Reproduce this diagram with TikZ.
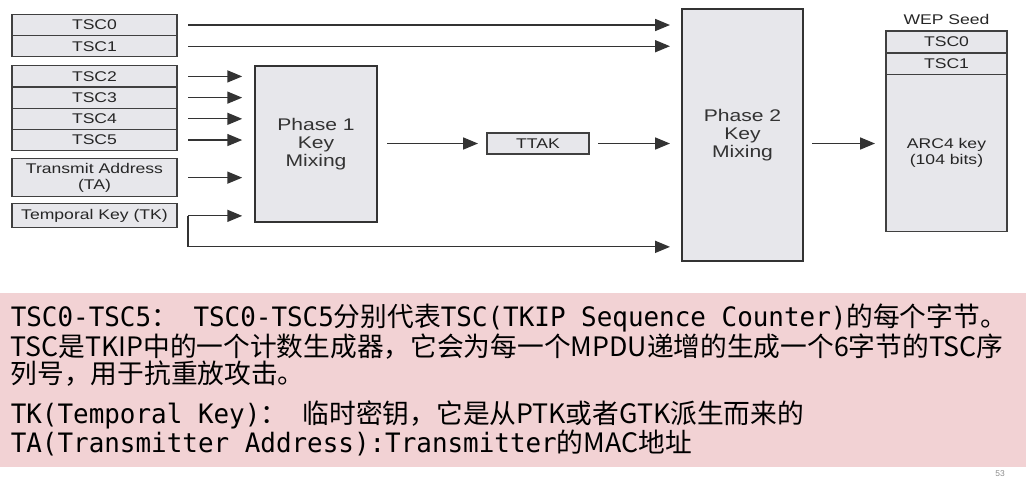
\documentclass[tikz,border=0pt]{standalone}
\usepackage{fontspec}
\setmainfont{Liberation Sans}
\newfontfamily\diagfont[FakeStretch=1.25]{Liberation Sans}
\newfontfamily\cjkfont{Noto Sans CJK SC}
\newfontfamily\monofont[FakeStretch=0.97]{DejaVu Sans Mono}
\usetikzlibrary{arrows.meta, positioning, calc}
\definecolor{boxgray}{RGB}{231,231,235}
\definecolor{notepink}{RGB}{242,210,212}
\newcommand{\mn}[1]{{\monofont\spaceskip=\fontdimen2\font\relax\xspaceskip=\spaceskip #1}}

\begin{document}
\begin{tikzpicture}[
  x=0.025cm, y=-0.025cm,
  field/.style={draw=black!75, line width=0.9pt, fill=boxgray, minimum width=4.125cm,
                minimum height=0.53cm, inner sep=0pt, outer sep=0pt, align=center,
                font=\diagfont\fontsize{10}{11}\selectfont, text=black!85},
  mixer/.style={draw=black!80, line width=1.8pt, fill=boxgray, inner sep=0pt, outer sep=0pt,
                align=center, font=\diagfont\fontsize{12}{12.8}\selectfont, text=black!80},
  arr/.style={-{Triangle[length=0.37cm, width=0.3cm]}, line width=0.9pt, draw=black!80},
  node distance=0pt
]
\useasboundingbox (0,0) rectangle (1034,483);

% input fields
\node[field] (tsc0) at (94.5,25) {TSC0};
\node[field, below=of tsc0] (tsc1) {TSC1};
\node[field, below=0.225cm of tsc1] (tsc2) {TSC2};
\node[field, below=of tsc2] (tsc3) {TSC3};
\node[field, below=of tsc3] (tsc4) {TSC4};
\node[field, below=of tsc4] (tsc5) {TSC5};
\node[field, below=0.2cm of tsc5, minimum height=0.95cm] (ta) {Transmit Address\\(TA)};
\node[field, below=0.18cm of ta, minimum height=0.6cm] (tk) {Temporal Key (TK)};

% mixing stages
\node[mixer, minimum width=3.05cm, minimum height=3.9cm] (p1) at (316,144) {Phase 1\\Key\\Mixing};
\node[field, minimum width=2.55cm] (ttak) at (538,143.5) {TTAK};
\node[mixer, minimum width=3.025cm, minimum height=6.3cm] (p2) at (742.5,135) {Phase 2\\Key\\Mixing};

% WEP seed
\node[field, minimum width=3.025cm, minimum height=0.55cm] (wtsc0) at (946.5,42) {TSC0};
\node[field, below=of wtsc0, minimum width=3.025cm] (wtsc1) {TSC1};
\node[field, below=of wtsc1, minimum width=3.025cm, minimum height=3.925cm] (arc4) {ARC4 key\\(104 bits)};
\node[above=0.12cm of wtsc0, inner sep=1pt, font=\diagfont\fontsize{10}{11}\selectfont, text=black!85] (seed) {WEP Seed};

\draw[arr, shorten <=0.275cm, shorten >=0.3cm] (tsc0.east) -- (tsc0.east -| p2.west);
\draw[arr, shorten <=0.275cm, shorten >=0.3cm] (tsc1.east) -- (tsc1.east -| p2.west);
\foreach \n in {tsc2,tsc3,tsc4,tsc5,ta,tk}
  \draw[arr, shorten <=0.275cm, shorten >=0.32cm] (\n.east) -- (\n.east -| p1.west);
\coordinate (tkbend) at ($(tk.east)+(11,31)$);
\draw[arr, shorten >=0.3cm] (tkbend |- tk.east) -- (tkbend) -- (tkbend -| p2.west);
\draw[arr, shorten <=0.25cm, shorten >=0.225cm] (p1.east |- ttak) -- (ttak);
\draw[arr, shorten <=0.225cm, shorten >=0.3cm] (ttak) -- (ttak -| p2.west);
\draw[arr, shorten <=0.225cm, shorten >=0.275cm] (p2.east |- ttak) -- (ttak -| arc4.west);

% notes
\node[anchor=north west, fill=notepink, minimum width=25.625cm, minimum height=4.35cm,
      text width=25.1cm, inner xsep=0.25cm, inner ysep=0pt, align=left,
      font=\cjkfont] (notes) at (0,293) {%
  \fontsize{19}{19.6}\selectfont\baselineskip=0.6875cm
  \mn{TSC0-TSC5}：\mn{ TSC0-TSC5}分别代表\mn{TSC(TKIP Sequence Counter)}的每个字节。\\
  TSC是TKIP中的一个计数生成器，它会为每一个MPDU递增的生成一个6字节的TSC序\\
  列号，用于抗重放攻击。\\[0.3cm]
  \mn{TK(Temporal Key)}：\mn{ }临时密钥，它是从PTK或者GTK派生而来的\\
  \mn{TA(Transmitter Address):Transmitter}的MAC地址\par};
\node[font=\fontsize{6}{6}\selectfont, text=black!45] (pgnum) at (1000,474) {53};
\end{tikzpicture}
\end{document}
